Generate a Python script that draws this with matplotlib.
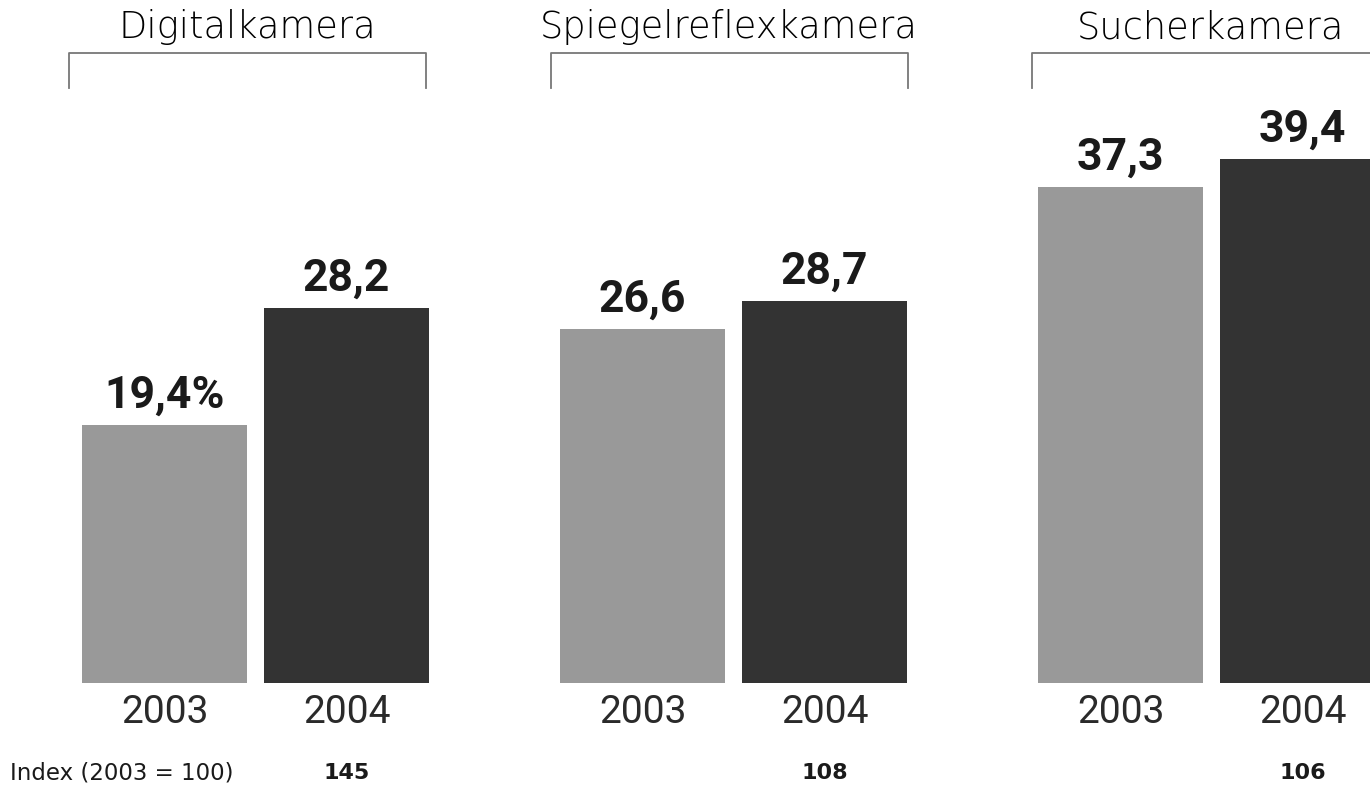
from matplotlib import pyplot as plt

# Marktanteile nach Kameratyp
kategorien = ["Digitalkamera", "Spiegelreflexkamera", "Sucherkamera"]
jahre = ["2003", "2004"]
werte_2003 = [19.4, 26.6, 37.3]
werte_2004 = [28.2, 28.7, 39.4]
etiketten_2003 = ["19,4%", "26,6", "37,3"]
etiketten_2004 = ["28,2", "28,7", "39,4"]
index_werte = ["145", "108", "106"]

farben = ["#999999", "#333333"]
breite = 0.345
versatz = 0.1904
textfarbe = "#1a1a1a"

fig = plt.figure(figsize=(13.7, 7.9), dpi=100)
ax = fig.add_axes([0, 0, 1, 1])
ax.set_xlim(-0.5345, 2.3316)
ax.set_ylim(-8.05, 51.35)
ax.axis("off")

pos = list(range(len(kategorien)))
b1 = ax.bar([p - versatz for p in pos], werte_2003, width=breite, color=farben[0])
b2 = ax.bar([p + versatz for p in pos], werte_2004, width=breite, color=farben[1])

for bars, labels in [(b1, etiketten_2003), (b2, etiketten_2004)]:
    for rect, lab in zip(bars, labels):
        ax.annotate(lab, (rect.get_x() + rect.get_width() / 2, rect.get_height()),
                    xytext=(0, 6), textcoords="offset points", ha="center", va="bottom",
                    fontsize=32, fontweight="bold", family=["Roboto", "DejaVu Sans"],
                    color=textfarbe)

# Jahreszahlen unter den Balken
for p in pos:
    ax.text(p - versatz, -2.2, jahre[0], ha="center", va="center", fontsize=28,
            color="#2a2a2a", family=["Roboto", "DejaVu Sans"])
    ax.text(p + versatz, -2.2, jahre[1], ha="center", va="center", fontsize=28,
            color="#2a2a2a", family=["Roboto", "DejaVu Sans"])
    ax.text(p + versatz, -6.8, index_werte[p], ha="center", va="center", fontsize=16,
            fontweight="bold", color=textfarbe)

    # Klammer und Titel
    mitte = p * 1.0073
    links = mitte - 0.390
    rechts = mitte + 0.357
    ax.plot([links, links, rechts, rechts], [44.74, 47.37, 47.37, 44.74],
            color="#777777", lw=1.3, clip_on=False)
    ax.text((links + rechts) / 2, 49.3, kategorien[p], ha="center", va="center",
            fontsize=26.5, color="black", fontweight="light")

ax.text(-0.513, -6.8, "Index (2003 = 100)", ha="left", va="center", fontsize=16.5,
        color=textfarbe)

plt.savefig("out.png", dpi=100)
